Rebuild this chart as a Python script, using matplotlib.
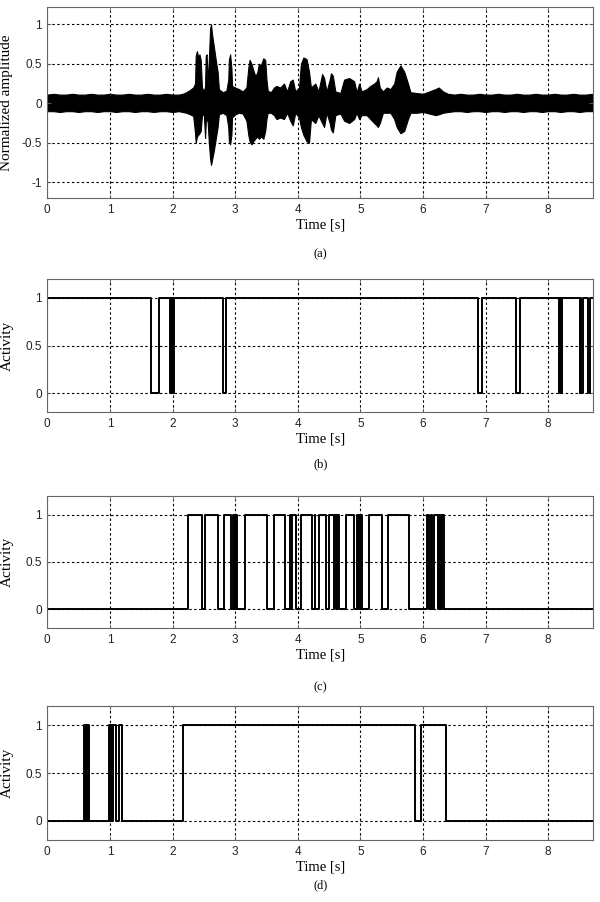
import numpy as np
import matplotlib
matplotlib.use("Agg")
import matplotlib.pyplot as plt

XMAX = 8.72

# (a) waveform envelope: time, upper edge, lower edge
env_t = [0.00, 0.10, 0.20, 0.30, 0.40, 0.50, 0.60, 0.70, 0.80, 0.90,
         1.00, 1.10, 1.20, 1.30, 1.40, 1.50, 1.60, 1.70, 1.80, 1.90,
         2.00, 2.10, 2.16, 2.22, 2.28, 2.33, 2.36, 2.37, 2.39, 2.41,
         2.43, 2.45, 2.47, 2.50, 2.52, 2.53, 2.545, 2.56, 2.58, 2.60,
         2.615, 2.63, 2.66, 2.69, 2.72, 2.74, 2.80, 2.86, 2.89, 2.90,
         2.92, 2.94, 2.95, 3.00, 3.06, 3.12, 3.18, 3.21, 3.23, 3.26,
         3.29, 3.32, 3.35, 3.38, 3.41, 3.45, 3.48, 3.50, 3.52, 3.57,
         3.62, 3.66, 3.72, 3.78, 3.83, 3.88, 3.92, 3.96, 4.02, 4.05,
         4.09, 4.14, 4.18, 4.21, 4.28, 4.33, 4.37, 4.39, 4.42, 4.46,
         4.51, 4.53, 4.56, 4.60, 4.68, 4.74, 4.82, 4.90, 4.94, 4.98,
         5.02, 5.10, 5.16, 5.22, 5.26, 5.28, 5.31, 5.36, 5.42, 5.48,
         5.54, 5.58, 5.64, 5.70, 5.76, 5.80, 5.90, 6.00, 6.10, 6.20,
         6.25, 6.32, 6.40, 6.50, 6.60, 6.70, 6.80, 6.90, 7.00, 7.10,
         7.20, 7.30, 7.40, 7.50, 7.60, 7.70, 7.80, 7.90, 8.00, 8.10,
         8.20, 8.30, 8.40, 8.50, 8.60, 8.70]
env_hi = [0.11, 0.12, 0.11, 0.11, 0.12, 0.11, 0.11, 0.12, 0.11, 0.11,
          0.12, 0.11, 0.11, 0.12, 0.11, 0.11, 0.12, 0.11, 0.11, 0.12,
          0.11, 0.11, 0.12, 0.14, 0.17, 0.20, 0.25, 0.60, 0.66, 0.58,
          0.62, 0.55, 0.20, 0.15, 0.22, 0.60, 0.62, 0.25, 0.55, 0.95,
          1.00, 0.88, 0.72, 0.55, 0.40, 0.18, 0.14, 0.16, 0.30, 0.55,
          0.62, 0.45, 0.22, 0.20, 0.18, 0.15, 0.20, 0.45, 0.55, 0.50,
          0.42, 0.35, 0.38, 0.50, 0.48, 0.57, 0.55, 0.30, 0.16, 0.14,
          0.20, 0.22, 0.20, 0.25, 0.15, 0.28, 0.30, 0.15, 0.20, 0.50,
          0.58, 0.56, 0.40, 0.20, 0.25, 0.15, 0.30, 0.37, 0.32, 0.15,
          0.30, 0.38, 0.35, 0.15, 0.13, 0.30, 0.32, 0.28, 0.14, 0.25,
          0.15, 0.18, 0.22, 0.25, 0.28, 0.33, 0.20, 0.15, 0.20, 0.18,
          0.25, 0.40, 0.48, 0.40, 0.25, 0.14, 0.13, 0.12, 0.15, 0.18,
          0.20, 0.15, 0.12, 0.11, 0.12, 0.11, 0.11, 0.12, 0.11, 0.11,
          0.12, 0.11, 0.11, 0.12, 0.11, 0.11, 0.12, 0.11, 0.11, 0.12,
          0.11, 0.11, 0.12, 0.11, 0.11, 0.12]
env_lo = [-0.10, -0.10, -0.11, -0.10, -0.10, -0.11, -0.10, -0.10, -0.11, -0.10,
          -0.10, -0.11, -0.10, -0.10, -0.11, -0.10, -0.10, -0.11, -0.10, -0.10,
          -0.11, -0.10, -0.11, -0.12, -0.14, -0.16, -0.38, -0.50, -0.42, -0.40,
          -0.38, -0.35, -0.15, -0.14, -0.44, -0.25, -0.20, -0.22, -0.50, -0.70,
          -0.78, -0.72, -0.60, -0.45, -0.30, -0.14, -0.12, -0.15, -0.30, -0.48,
          -0.52, -0.40, -0.18, -0.14, -0.12, -0.13, -0.22, -0.40, -0.48, -0.52,
          -0.48, -0.45, -0.42, -0.45, -0.42, -0.45, -0.35, -0.20, -0.12, -0.12,
          -0.15, -0.20, -0.18, -0.20, -0.12, -0.22, -0.28, -0.12, -0.18, -0.30,
          -0.40, -0.48, -0.50, -0.20, -0.25, -0.15, -0.22, -0.25, -0.30, -0.12,
          -0.25, -0.33, -0.37, -0.15, -0.13, -0.22, -0.25, -0.20, -0.12, -0.20,
          -0.15, -0.15, -0.20, -0.25, -0.28, -0.30, -0.25, -0.12, -0.12, -0.12,
          -0.20, -0.30, -0.38, -0.35, -0.20, -0.12, -0.12, -0.11, -0.13, -0.15,
          -0.14, -0.12, -0.11, -0.10, -0.10, -0.11, -0.10, -0.10, -0.11, -0.10,
          -0.10, -0.11, -0.10, -0.10, -0.11, -0.10, -0.10, -0.11, -0.10, -0.10,
          -0.11, -0.10, -0.10, -0.11, -0.10, -0.10]

# (b) activity: switch times and level after each switch
b_t = [0.00, 1.65, 1.78, 1.96, 1.97, 1.98, 1.99, 2.00, 2.02, 2.81, 2.86,
       6.88, 6.94, 7.48, 7.55, 8.18, 8.19, 8.20, 8.22, 8.50, 8.515, 8.53,
       8.55, 8.64, 8.67, XMAX]
b_v = [1, 0, 1, 0, 1, 0, 1, 0, 1, 0, 1,
       0, 1, 0, 1, 0, 1, 0, 1, 0, 1, 0,
       1, 0, 1, 1]

# (c) activity
c_t = [0.00, 2.25, 2.47, 2.52, 2.73, 2.83, 2.94, 2.96, 2.975, 2.99, 3.005,
       3.02, 3.035, 3.15, 3.51, 3.62, 3.80, 3.88, 3.90, 3.91, 3.97, 4.05,
       4.23, 4.27, 4.28, 4.34, 4.45, 4.50, 4.58, 4.60, 4.62, 4.63, 4.66,
       4.77, 4.90, 4.94, 4.96, 4.975, 4.99, 5.00, 5.02, 5.13, 5.35, 5.44,
       5.78, 6.07, 6.10, 6.13, 6.15, 6.18, 6.24, 6.25, 6.27, 6.28, 6.30,
       6.31, 6.33, XMAX]
c_v = [0, 1, 0, 1, 0, 1, 0, 1, 0, 1, 0,
       1, 0, 1, 0, 1, 0, 1, 0, 1, 0, 1,
       0, 1, 0, 1, 0, 1, 0, 1, 0, 1, 0,
       1, 0, 1, 0, 1, 0, 1, 0, 1, 0, 1,
       0, 1, 0, 1, 0, 1, 0, 1, 0, 1, 0,
       1, 0, 0]

# (d) activity
d_t = [0.00, 0.59, 0.605, 0.62, 0.635, 0.65, 0.665, 0.68, 0.99, 1.00,
       1.02, 1.03, 1.05, 1.10, 1.14, 1.20, 2.16, 5.88, 5.97, 6.37, XMAX]
d_v = [0, 1, 0, 1, 0, 1, 0, 0, 1, 0,
       1, 0, 1, 0, 1, 0, 1, 0, 1, 0, 0]

xticks = [0, 1, 2, 3, 4, 5, 6, 7, 8]
amp_ticks = [-1, -0.5, 0, 0.5, 1]
amp_labels = ["-1", "-0.5", "0", "0.5", "1"]
act_ticks = [0, 0.5, 1]
act_labels = ["0", "0.5", "1"]
captions = ["(a)", "(b)", "(c)", "(d)"]

W, H = 600, 902
fig = plt.figure(figsize=(W / 100, H / 100), dpi=100)

TICKFONT = "Liberation Sans"
LABFONT = "Liberation Serif"

# axes boxes in pixels: top, bottom
boxes = [(7, 198), (279, 412), (496, 628), (706, 840)]
cap_y = [254, 464, 687, 885]
left, right = 47.3, 593.3

axes = []
for top, bot in boxes:
    ax = fig.add_axes([left / W, 1 - bot / H, (right - left) / W, (bot - top) / H])
    axes.append(ax)


def style(ax, yt, yl):
    ax.set_xlim(0, XMAX)
    ax.set_xticks(xticks)
    ax.set_xticklabels([str(v) for v in xticks], fontfamily=TICKFONT, fontsize=8.5, color="#222222")
    ax.set_yticks(yt)
    ax.set_yticklabels(yl, fontfamily=TICKFONT, fontsize=8.5, color="#222222")
    ax.grid(True, color="black", linestyle=(0, (2.2, 2.2)), linewidth=0.8)
    ax.tick_params(direction="in", length=3, width=0.6, color="#666666", pad=4,
                   top=True, right=True)
    for s in ax.spines.values():
        s.set_color("#666666")
        s.set_linewidth(0.8)
    ax.set_xlabel("Time [s]", fontfamily=LABFONT, fontsize=10.5, labelpad=2)
    ax.yaxis.set_label_coords(-0.062, 0.5)


# (a)
ax = axes[0]
ax.fill_between(env_t, env_lo, env_hi, color="black", linewidth=0.8, edgecolor="black")
ax.set_ylim(-1.2, 1.22)
style(ax, amp_ticks, amp_labels)
ax.set_ylabel("Normalized amplitude", fontfamily=LABFONT, fontsize=11)

for ax, tt, vv in zip(axes[1:], [b_t, c_t, d_t], [b_v, c_v, d_v]):
    ax.plot(tt, vv, drawstyle="steps-post", color="black", linewidth=1.4)
    ax.set_ylim(-0.2, 1.2)
    style(ax, act_ticks, act_labels)
    ax.set_ylabel("Activity", fontfamily=LABFONT, fontsize=11)

for cap, y in zip(captions, cap_y):
    fig.text((left + right) / 2 / W, 1 - y / H, cap, ha="center", va="center",
             fontfamily=LABFONT, fontsize=9)

fig.savefig("out.png", dpi=100)
